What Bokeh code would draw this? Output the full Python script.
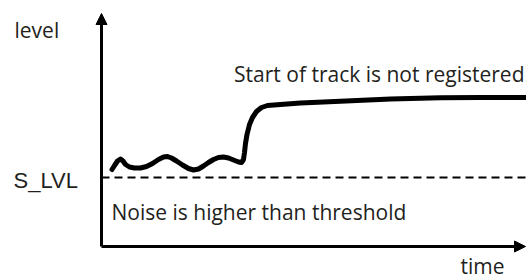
from bokeh.plotting import figure
from bokeh.models import Range1d, Label, Arrow, NormalHead
from bokeh.embed import file_html
from bokeh.resources import INLINE

# signal trace (time, level)
signal_t = [10.5, 13, 16, 19, 21.5, 24, 28, 33, 39, 45, 51, 57, 62, 66, 70, 75, 81, 87, 92,
            97, 102, 107, 112, 117, 122, 127, 132, 137, 140, 142, 143, 144, 145.5, 148, 151,
            155, 160, 166, 179, 199, 239, 289, 339, 379, 425]
signal_level = [77, 81, 85.5, 87.5, 85.5, 82, 79.5, 78.5, 78.5, 80, 83, 87, 89.5, 90, 88.5,
                85.5, 81.5, 78, 76.5, 77.5, 80.5, 84, 87, 89, 89.5, 88.5, 86.5, 84.5, 84, 87,
                94, 103, 112, 122, 129, 135, 139, 141, 142, 143.5, 145.3, 147.5, 148.7, 149, 149]
threshold = [69]
axis_top = 233
axis_right = 424

FONT = "Open Sans"
TXT = "#231F20"

p = figure(width=526, height=280, output_backend="svg", toolbar_location=None,
           x_range=Range1d(-101, 425), y_range=Range1d(-34, 246),
           min_border=0, min_border_left=0, min_border_right=0,
           min_border_top=0, min_border_bottom=0)
p.axis.visible = False
p.grid.visible = False
p.outline_line_color = None
p.background_fill_color = "white"

# threshold
p.line([0, axis_right], [threshold[0], threshold[0]], line_color="black",
       line_width=2, line_dash="8 5")

# signal
p.line(signal_t, signal_level, line_color="black", line_width=5,
       line_join="round", line_cap="round")

# axes with arrows
p.add_layout(Arrow(x_start=0, y_start=0, x_end=0, y_end=axis_top, line_width=3,
                   end=NormalHead(size=11, fill_color="black", line_color="black", line_width=1)))
p.add_layout(Arrow(x_start=0, y_start=0, x_end=axis_right, y_end=0, line_width=3,
                   end=NormalHead(size=11, fill_color="black", line_color="black", line_width=1)))

p.add_layout(Label(x=-87, y=217, text="level", text_font=FONT, text_font_size="21px",
                   text_color=TXT, text_baseline="middle"))
p.add_layout(Label(x=-88, y=66, text="S_LVL", text_font="Liberation Sans", text_font_size="22px",
                   text_color=TXT, text_baseline="middle"))
p.add_layout(Label(x=359, y=-33, text="time", text_font=FONT, text_font_size="21px",
                   text_color=TXT, text_baseline="bottom"))
p.add_layout(Label(x=423, y=173, text="Start of track is not registered", text_font=FONT,
                   text_font_size="21px", text_color=TXT, text_align="right",
                   text_baseline="alphabetic"))
p.add_layout(Label(x=10, y=35, text="Noise is higher than threshold", text_font=FONT,
                   text_font_size="21px", text_color=TXT, text_baseline="alphabetic"))

open("out.html", "w").write(file_html(p, INLINE))
